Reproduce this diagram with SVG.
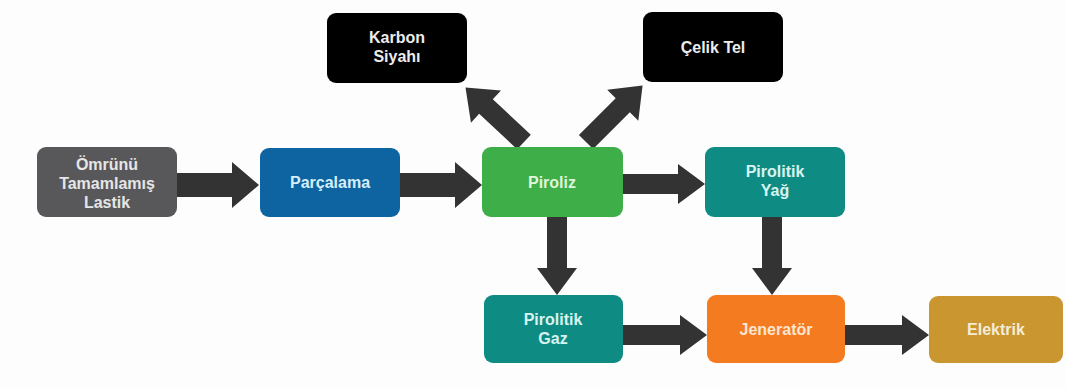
<svg xmlns="http://www.w3.org/2000/svg" width="1066" height="388" viewBox="0 0 1066 388">
<defs>
<style>
.box{stroke:none}
.t{font-family:"Liberation Sans",Arial,sans-serif;font-weight:bold;font-size:16px;text-anchor:middle}
.arr{fill:#333333}
</style>
<path id="a84w" d="M0,-12 L57,-12 L57,-23 L84,0 L57,23 L57,12 L0,12 Z"/>
<path id="a84" d="M0,-10 L57,-10 L57,-20 L84,0 L57,20 L57,10 L0,10 Z"/>
<path id="a78" d="M0,-10 L51,-10 L51,-20 L78,0 L51,20 L51,10 L0,10 Z"/>
<path id="a80d" d="M0,-10 L52,-10 L52,-22 L80,0 L52,22 L52,10 L0,10 Z"/>
</defs>
<rect width="1066" height="388" fill="#fdfdfd"/>
<g id="connectors" class="arr">
<use href="#a84w" transform="translate(175,185)"/>
<use href="#a84w" transform="translate(398,185)"/>
<use href="#a84" transform="translate(621,184)"/>
<use href="#a84" transform="translate(623,335)"/>
<use href="#a84" transform="translate(845,335)"/>
<use href="#a78" transform="translate(557,217) rotate(90)"/>
<use href="#a78" transform="translate(772,217) rotate(90)"/>
<use href="#a80d" transform="translate(524,142) rotate(-137)"/>
<use href="#a80d" transform="translate(586,142) rotate(-45)"/>
</g>
<g id="lastik">
<rect class="box" x="37" y="147" width="140" height="70" rx="9" fill="#58585a"/>
<text class="t" fill="#e6e6e6"><tspan x="107" y="170">Ömrünü</tspan><tspan x="107" y="189">Tamamlamış</tspan><tspan x="107" y="208">Lastik</tspan></text>
</g>
<g id="parcalama">
<rect class="box" x="260" y="148" width="140" height="69" rx="9" fill="#0d64a0"/>
<text class="t" fill="#d6eefa" x="330" y="188">Parçalama</text>
</g>
<g id="piroliz">
<rect class="box" x="482" y="147" width="141" height="70" rx="9" fill="#3eae48"/>
<text class="t" fill="#dff5dc" x="552" y="188">Piroliz</text>
</g>
<g id="pirolitik-yag">
<rect class="box" x="705" y="147" width="140" height="70" rx="9" fill="#0e8c84"/>
<text class="t" fill="#d8f3f0"><tspan x="775" y="177">Pirolitik</tspan><tspan x="775" y="196">Yağ</tspan></text>
</g>
<g id="karbon-siyahi">
<rect class="box" x="327" y="13" width="140" height="70" rx="9" fill="#000000"/>
<text class="t" fill="#ececec"><tspan x="397" y="43">Karbon</tspan><tspan x="397" y="62">Siyahı</tspan></text>
</g>
<g id="celik-tel">
<rect class="box" x="643" y="12" width="140" height="70" rx="9" fill="#000000"/>
<text class="t" fill="#ececec" x="713" y="53">Çelik Tel</text>
</g>
<g id="pirolitik-gaz">
<rect class="box" x="484" y="295" width="139" height="68" rx="9" fill="#0e8c84"/>
<text class="t" fill="#d8f3f0"><tspan x="553" y="325">Pirolitik</tspan><tspan x="553" y="344">Gaz</tspan></text>
</g>
<g id="jenerator">
<rect class="box" x="707" y="295" width="138" height="68" rx="9" fill="#f47b20"/>
<text class="t" fill="#fde6d2" x="776" y="335">Jeneratör</text>
</g>
<g id="elektrik">
<rect class="box" x="929" y="296" width="134" height="67" rx="9" fill="#c9962f"/>
<text class="t" fill="#f6ecd6" x="996" y="335">Elektrik</text>
</g>
</svg>
